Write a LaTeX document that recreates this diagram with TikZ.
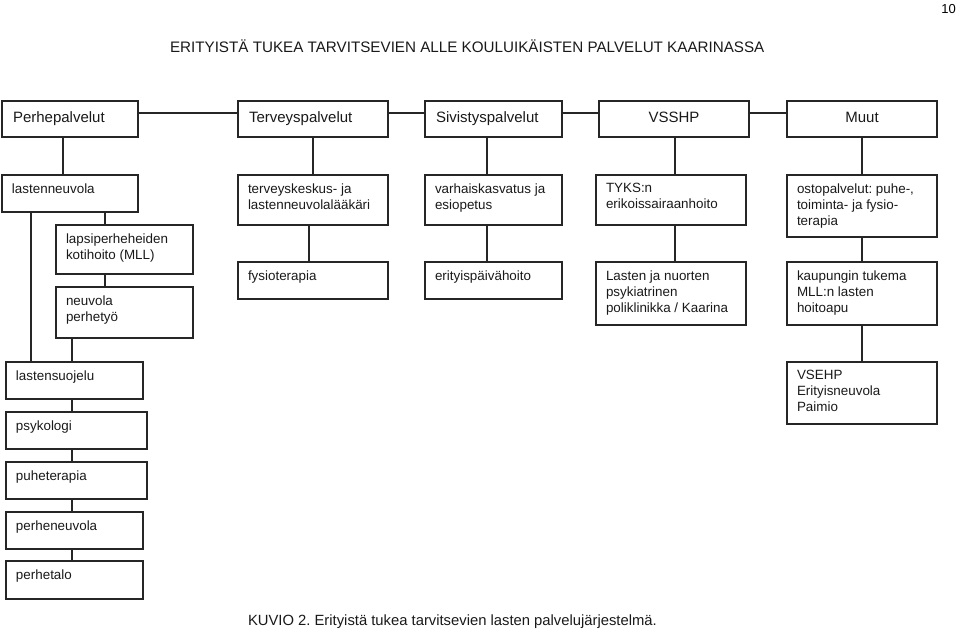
\documentclass[tikz,border=0pt]{standalone}
\usepackage{fontspec}
\setmainfont{Liberation Sans}
\frenchspacing
\begin{document}
\begin{tikzpicture}[x=1pt,y=-1pt,
  box/.style={draw=black!85, line width=1.2pt, rectangle, inner sep=0pt, outer sep=0pt},
  txt/.style={inner sep=0pt, outer sep=0pt, align=left, text=black!90, font=\fontsize{13.4}{16}\selectfont},
  htxt/.style={inner sep=0pt, outer sep=0pt, text=black!90, font=\fontsize{15}{18}\selectfont},
  link/.style={draw=black!85, line width=1.2pt}]
\useasboundingbox (0,0) rectangle (960,638);
\newcommand\bx[5]{\node[box, minimum width={#4-#2}, minimum height={#5-#3}] (#1) at ({(#2+#4)/2},{(#3+#5)/2}) {};}
\newcommand\tx[3]{\node[txt, anchor=north west] (#1t) at ([xshift=10pt, yshift=-8.5pt]#1.north west) {#3};}
% title, page number, caption
\node[htxt, anchor=base west, font=\fontsize{15.2}{18}\selectfont] (title) at (170,52) {ERITYISTÄ TUKEA TARVITSEVIEN ALLE KOULUIKÄISTEN PALVELUT KAARINASSA};
\node[inner sep=0pt, anchor=base east, font=\fontsize{13}{15}\selectfont] (pnum) at (956,13) {10};
\node[htxt, anchor=base west, font=\fontsize{14.8}{18}\selectfont] (caption) at (248,625) {KUVIO 2. Erityistä tukea tarvitsevien lasten palvelujärjestelmä.};
% headers
\bx{h1}{2}{101}{138}{137}
\bx{h2}{238}{101}{388}{137}
\bx{h3}{425}{101}{562}{137}
\bx{h4}{599}{101}{749}{137}
\bx{h5}{787}{101}{937}{137}
\node[htxt, anchor=base west] (h1t) at ([xshift=11pt, yshift=-21pt]h1.north west) {Perhepalvelut};
\node[htxt, anchor=base west] (h2t) at ([xshift=11pt, yshift=-21pt]h2.north west) {Terveyspalvelut};
\node[htxt, anchor=base west] (h3t) at ([xshift=11pt, yshift=-21pt]h3.north west) {Sivistyspalvelut};
\node[htxt, anchor=base] (h4t) at ([yshift=-21pt]h4.north) {VSSHP};
\node[htxt, anchor=base] (h5t) at ([yshift=-21pt]h5.north) {Muut};
\draw[link] ([yshift=6pt]h1.east) -- ([yshift=6pt]h2.west);
\draw[link] ([yshift=6pt]h2.east) -- ([yshift=6pt]h3.west);
\draw[link] ([yshift=6pt]h3.east) -- ([yshift=6pt]h4.west);
\draw[link] ([yshift=6pt]h4.east) -- ([yshift=6pt]h5.west);
% Perhepalvelut column
\bx{b1}{2}{175}{138}{212}
\bx{lap}{56}{225}{193}{274}
\bx{neu}{56}{287}{193}{338}
\bx{ls}{6}{362}{143}{399}
\bx{psy}{6}{412}{147}{449}
\bx{puhe}{6}{462}{147}{499}
\bx{phn}{6}{512}{143}{549}
\bx{pht}{6}{561}{143}{599}
\tx{b1}{}{lastenneuvola}
\tx{lap}{}{lapsiperheheiden\\kotihoito (MLL)}
\tx{neu}{}{neuvola\\perhetyö}
\tx{ls}{}{lastensuojelu}
\tx{psy}{}{psykologi}
\tx{puhe}{}{puheterapia}
\tx{phn}{}{perheneuvola}
\tx{pht}{}{perhetalo}
\draw[link] ([xshift=61pt]h1.south west) -- ([xshift=61pt]b1.north west);
\draw[link] ([xshift=29pt]b1.south west) -- ([xshift=25pt]ls.north west);
\draw[link] ([xshift=103pt]b1.south west) -- ([xshift=49pt]lap.north west);
\draw[link] ([xshift=49pt]lap.south west) -- ([xshift=49pt]neu.north west);
\draw[link] ([xshift=16pt]neu.south west) -- ([xshift=66pt]ls.north west);
\draw[link] ([xshift=66pt]ls.south west) -- ([xshift=66pt]psy.north west);
\draw[link] ([xshift=66pt]psy.south west) -- ([xshift=66pt]puhe.north west);
\draw[link] ([xshift=66pt]puhe.south west) -- ([xshift=66pt]phn.north west);
\draw[link] ([xshift=66pt]phn.south west) -- ([xshift=66pt]pht.north west);
% Terveyspalvelut column
\bx{t1}{238}{175}{388}{225}
\bx{t2}{238}{262}{388}{299}
\tx{t1}{}{terveyskeskus- ja\\lastenneuvolalääkäri}
\tx{t2}{}{fysioterapia}
\draw[link] ([xshift=75pt]h2.south west) -- ([xshift=75pt]t1.north west);
\draw[link] ([xshift=71pt]t1.south west) -- ([xshift=71pt]t2.north west);
% Sivistyspalvelut column
\bx{s1}{425}{175}{562}{225}
\bx{s2}{425}{262}{562}{299}
\tx{s1}{}{varhaiskasvatus ja\\esiopetus}
\tx{s2}{}{erityispäivähoito}
\draw[link] ([xshift=62pt]h3.south west) -- ([xshift=62pt]s1.north west);
\draw[link] ([xshift=62pt]s1.south west) -- ([xshift=62pt]s2.north west);
% VSSHP column
\bx{v1}{596}{175}{746}{225}
\bx{v2}{596}{262}{746}{325}
\tx{v1}{}{TYKS:n\\erikoissairaanhoito}
\tx{v2}{}{Lasten ja nuorten\\psykiatrinen\\poliklinikka / Kaarina}
\draw[link] ([xshift=76pt]h4.south west) -- ([xshift=79pt]v1.north west);
\draw[link] ([xshift=79pt]v1.south west) -- ([xshift=79pt]v2.north west);
% Muut column
\bx{m1}{787}{175}{937}{237}
\bx{m2}{787}{262}{937}{325}
\bx{m3}{787}{362}{937}{424}
\tx{m1}{}{ostopalvelut: puhe-,\\toiminta- ja fysio-\\terapia}
\tx{m2}{}{kaupungin tukema\\MLL:n lasten\\hoitoapu}
\tx{m3}{}{VSEHP\\Erityisneuvola\\Paimio}
\draw[link] ([xshift=75pt]h5.south west) -- ([xshift=75pt]m1.north west);
\draw[link] ([xshift=75pt]m1.south west) -- ([xshift=75pt]m2.north west);
\draw[link] ([xshift=75pt]m2.south west) -- ([xshift=75pt]m3.north west);
\end{tikzpicture}
\end{document}
